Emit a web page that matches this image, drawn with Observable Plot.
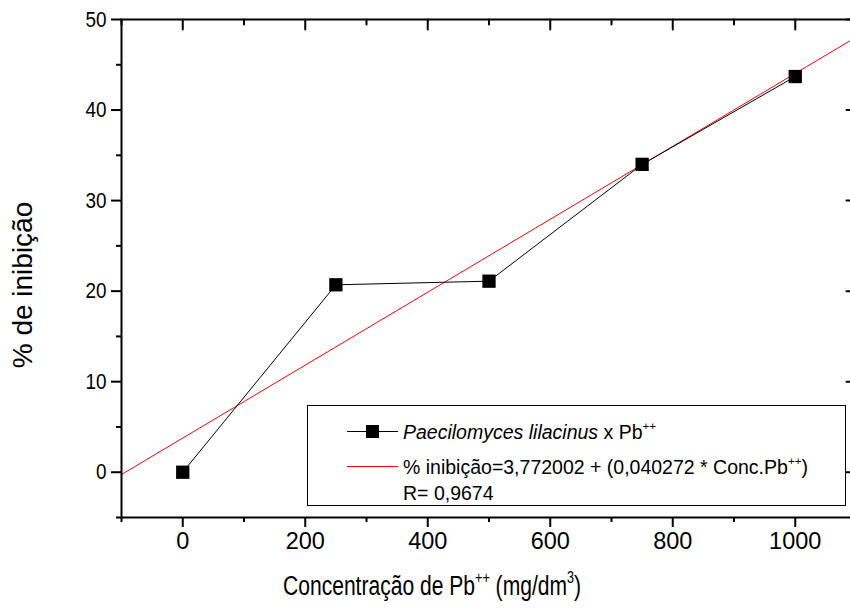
<!DOCTYPE html>
<html><head><meta charset="utf-8">
<script src="https://cdn.jsdelivr.net/npm/d3@7"></script>
<script src="https://cdn.jsdelivr.net/npm/@observablehq/plot@0.6"></script>
<style>
body{margin:0;background:#fff;font-family:"Liberation Sans",Arial,sans-serif;color:#000;}
#wrap{position:relative;width:850px;height:612px;overflow:hidden;}
#wrap svg{position:absolute;left:0;top:0;max-width:none;}
.xtitle{position:absolute;left:283px;top:571px;font-size:27px;white-space:nowrap;transform-origin:0 0;transform:scaleX(0.78);}
.ytitle{position:absolute;left:23px;top:285px;font-size:28px;white-space:nowrap;transform:translate(-50%,-50%) rotate(-90deg);}
sup{font-size:60%;vertical-align:0;position:relative;top:-0.75em;}
.legend{position:absolute;left:307px;top:405px;width:537px;height:99px;border:1px solid #000;background:#fff;font-size:19.5px;}
.sym{position:absolute;left:39px;width:51px;height:1px;}
.txt{position:absolute;left:95px;white-space:nowrap;transform:translateY(-50%);}
</style></head><body><div id="wrap"></div>
<script>
const concentrations = [0, 250, 500, 750, 1000];
const inhibition = [0, 20.7, 21.1, 34.0, 43.7];
const fitLineX = [-100, 1100];
const fitLineY = [-0.255, 48.07];
const xMajorTicks = [0, 200, 400, 600, 800, 1000];
const xMinorTicks = [-100, 100, 300, 500, 700, 900, 1100];
const yMajorTicks = [0, 10, 20, 30, 40, 50];
const yMinorTicks = [-5, 5, 15, 25, 35, 45];
const seriesLabel = "Paecilomyces lilacinus";
const fitLabel = "% inibição=3,772002 + (0,040272 * Conc.Pb";
const rLabel = "R= 0,9674";

const points = concentrations.map((c, i) => ({x: c, y: inhibition[i]}));
const fit = fitLineX.map((x, i) => ({x, y: fitLineY[i]}));
const noText = () => "";
const tickShape = {draw(context, l) { context.moveTo(0, 0); context.lineTo(0, -l); }};
const inwardTop = (ticks, len) => Plot.vector(ticks, {x: d => d, frameAnchor: "top", length: len, rotate: 180, anchor: "start", shape: tickShape, stroke: "#000", strokeWidth: 2});
const inwardRight = (ticks, len) => Plot.vector(ticks, {y: d => d, frameAnchor: "right", length: len, rotate: -90, anchor: "start", shape: tickShape, stroke: "#000", strokeWidth: 2});

const chart = Plot.plot({
  width: 856, height: 612,
  marginLeft: 121, marginRight: 0, marginTop: 19, marginBottom: 95,
  x: {domain: [-100, 1100]},
  y: {domain: [-5, 50]},
  style: {fontFamily: "'Liberation Sans', Arial, sans-serif", fontSize: "22px", color: "#000", background: "#fff", maxWidth: "none", overflow: "visible"},
  marks: [
    Plot.line(fit, {x: "x", y: "y", stroke: "#ff0000", strokeWidth: 1, clip: true}),
    Plot.line(points, {x: "x", y: "y", stroke: "#000", strokeWidth: 1}),
    Plot.dot(points, {x: "x", y: "y", symbol: "square", r: 7.5, fill: "#000", stroke: "none"}),
    Plot.axisX(xMajorTicks, {anchor: "bottom", tickSize: 10, tickPadding: 5, strokeWidth: 2, label: null, tickFormat: "d", fontSize: 23.5}),
    Plot.axisX(xMinorTicks, {anchor: "bottom", tickSize: 5, strokeWidth: 2, tickFormat: noText, label: null}),
    Plot.axisY(yMajorTicks, {anchor: "left", tickSize: 10, tickPadding: 5, strokeWidth: 2, label: null, fontSize: 22}),
    Plot.axisY(yMinorTicks, {anchor: "left", tickSize: 5, strokeWidth: 2, tickFormat: noText, label: null}),
    inwardTop(xMajorTicks, 10),
    inwardTop(xMinorTicks, 5),
    inwardRight(yMajorTicks, 10),
    inwardRight(yMinorTicks, 5),
    Plot.frame({stroke: "#000", strokeWidth: 2})
  ]
});

// slightly condense the y tick labels
d3.select(chart).selectAll('g[aria-label="y-axis tick label"] text').each(function() {
  const t = this.getAttribute("transform") || "";
  this.setAttribute("transform", t + " scale(0.86,1)");
});

const wrap = document.getElementById("wrap");
wrap.appendChild(chart);

const xt = document.createElement("div");
xt.className = "xtitle";
xt.innerHTML = "Concentração de Pb<sup>++</sup> (mg/dm<sup>3</sup>)";
wrap.appendChild(xt);

const yt = document.createElement("div");
yt.className = "ytitle";
yt.textContent = "% de inibição";
wrap.appendChild(yt);

const lg = document.createElement("div");
lg.className = "legend";
lg.innerHTML = `
  <div class="sym" style="top:25px;background:#000"></div>
  <div style="position:absolute;left:58px;top:19px;width:13px;height:13px;background:#000"></div>
  <div class="txt" style="top:26px"><i>${seriesLabel}</i> x Pb<sup>++</sup></div>
  <div class="sym" style="top:60px;background:#ff0000"></div>
  <div class="txt" style="top:61px">${fitLabel}<sup>++</sup>)</div>
  <div class="txt" style="top:87px">${rLabel}</div>`;
wrap.appendChild(lg);
</script>
</body></html>
